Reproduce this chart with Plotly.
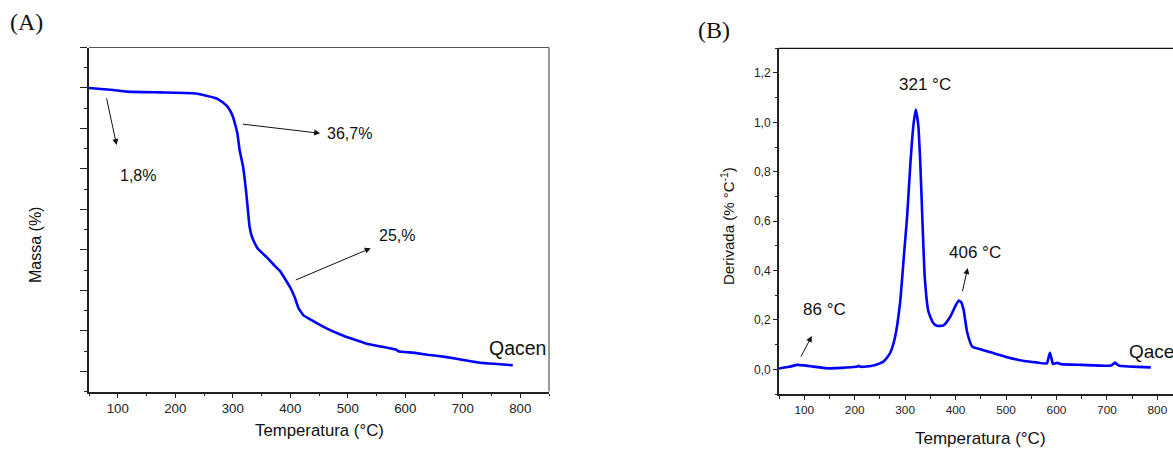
import plotly.graph_objects as go

# ---------------- data ----------------
# Panel A: TGA (mass %)
temp_a = [50, 92, 115, 173, 231, 254, 272, 283, 290, 295,
          300, 304, 308, 312, 318, 323, 327, 329, 332, 336,
          344, 359, 370, 382, 391, 400, 408, 414, 423, 440,
          463, 487, 510, 533, 562, 585, 588, 614, 643, 672,
          701, 730, 759, 787]
mass_a = [100.0, 99.5, 99.1, 98.9, 98.7, 98.1, 97.4, 96.4, 95.5, 94.5,
          93.0, 91.1, 88.8, 84.6, 80.5, 74.7, 68.9, 66.0, 63.9, 62.3,
          60.2, 58.2, 56.5, 54.8, 52.8, 50.7, 48.2, 45.7, 43.8, 42.4,
          40.6, 39.1, 37.9, 36.8, 36.0, 35.3, 34.9, 34.6, 34.0, 33.5,
          32.8, 32.1, 31.8, 31.5]

# Panel B: DTG (derivative)
temp_b = [50, 70, 86, 100, 118, 145, 175, 198, 205, 208,
          212, 237, 257, 270, 280, 290, 298, 304, 310, 316,
          321, 326, 330, 334, 339, 346, 355, 363, 376, 390,
          400, 406, 411, 416, 423, 433, 449, 476, 502, 536,
          560, 581, 584, 587, 590, 593, 602, 609, 650, 708,
          713, 716, 720, 725, 787]
deriv_b = [0.003, 0.010, 0.018, 0.016, 0.011, 0.004, 0.006, 0.009, 0.011, 0.014,
           0.010, 0.015, 0.031, 0.065, 0.13, 0.27, 0.47, 0.62, 0.82, 0.98,
           1.052, 0.99, 0.84, 0.62, 0.37, 0.235, 0.19, 0.176, 0.178, 0.215,
           0.258, 0.278, 0.272, 0.24, 0.15, 0.092, 0.081, 0.065, 0.049, 0.034,
           0.028, 0.024, 0.045, 0.067, 0.045, 0.022, 0.026, 0.021, 0.018, 0.015,
           0.022, 0.027, 0.020, 0.014, 0.008]

x_ticks = [100, 200, 300, 400, 500, 600, 700, 800]
b_y_ticks = [0.0, 0.2, 0.4, 0.6, 0.8, 1.0, 1.2]
b_y_ticktext = ["0,0", "0,2", "0,4", "0,6", "0,8", "1,0", "1,2"]

# ---------------- figure ----------------
W, H = 1173, 449
SANS = "Liberation Sans, Arial, sans-serif"
SERIF = "Liberation Serif, Times New Roman, serif"
BLUE = "#0000FF"
AX = "#222222"

fig = go.Figure()
fig.add_trace(go.Scatter(x=temp_a, y=mass_a, mode="lines",
                         line=dict(color=BLUE, width=2.6, shape="spline", smoothing=0.3),
                         xaxis="x", yaxis="y", showlegend=False, hoverinfo="skip"))
fig.add_trace(go.Scatter(x=temp_b, y=deriv_b, mode="lines",
                         line=dict(color=BLUE, width=2.6, shape="spline", smoothing=0.5),
                         xaxis="x2", yaxis="y2", showlegend=False, hoverinfo="skip"))

def px(x):
    return x / W

def py(y):
    return 1 - y / H

common_x = dict(showline=True, linecolor=AX, linewidth=2, mirror=False,
                ticks="outside", ticklen=4, tickwidth=1.2, tickcolor=AX,
                showgrid=False, zeroline=False, tickvals=x_ticks,
                minor=dict(dtick=50, tick0=0, ticks="outside", ticklen=2.5,
                           tickwidth=1.2, tickcolor=AX, showgrid=False))

fig.update_layout(
    width=W, height=H,
    margin=dict(l=0, r=0, t=0, b=0),
    paper_bgcolor="white", plot_bgcolor="white",
    font=dict(family=SANS, color="#111"),
    xaxis=dict(domain=[px(89), px(549)], range=[50, 850], anchor="y",
               tickfont=dict(size=13.3, family=SANS, color="#222"),
               **common_x),
    yaxis=dict(domain=[py(391.5), py(47.5)], range=[25, 110], anchor="x",
               showline=True, linecolor=AX, linewidth=2, mirror=False,
               ticks="outside", ticklen=7, tickwidth=1.2, tickcolor=AX,
               tickvals=[30, 40, 50, 60, 70, 80, 90, 100, 110],
               showticklabels=False, showgrid=False, zeroline=False,
               minor=dict(dtick=5, tick0=0, ticks="outside", ticklen=3.5,
                          tickwidth=1.2, tickcolor=AX, showgrid=False)),
    xaxis2=dict(domain=[px(779), 1.0], range=[50, 831], anchor="y2",
                tickfont=dict(size=11.8, family=SANS, color="#222"),
                **common_x),
    yaxis2=dict(domain=[py(394), py(48.3)], range=[-0.1, 1.3], anchor="x2",
                showline=True, linecolor=AX, linewidth=2, mirror=False,
                ticks="outside", ticklen=4, tickwidth=1.2, tickcolor=AX,
                tickvals=b_y_ticks, ticktext=b_y_ticktext,
                tickfont=dict(size=12, family=SANS, color="#222"),
                showgrid=False, zeroline=False,
                minor=dict(dtick=0.1, tick0=0, ticks="outside", ticklen=2.5,
                           tickwidth=1.2, tickcolor=AX, showgrid=False)),
)

# thin top / right frame lines
fig.add_shape(type="line", xref="x domain", yref="y domain", x0=0, x1=1, y0=1, y1=1,
              line=dict(color="#555", width=1.2))
fig.add_shape(type="line", xref="x domain", yref="y domain", x0=1, x1=1, y0=0, y1=1,
              line=dict(color="#555", width=1.2))
fig.add_shape(type="line", xref="x2 domain", yref="y2 domain", x0=0, x1=1, y0=1, y1=1,
              line=dict(color="#111", width=1.3))

ann = []
# panel labels
ann.append(dict(text="(A)", x=px(8), y=py(22), xref="paper", yref="paper",
                xanchor="left", yanchor="middle", showarrow=False,
                font=dict(family=SERIF, size=24, color="#111")))
ann.append(dict(text="(B)", x=px(696), y=py(30), xref="paper", yref="paper",
                xanchor="left", yanchor="middle", showarrow=False,
                font=dict(family=SERIF, size=24, color="#111")))
# axis titles
ann.append(dict(text="Temperatura (°C)", x=px(319), y=py(430), xref="paper", yref="paper",
                showarrow=False, xanchor="center", yanchor="middle",
                font=dict(size=16.8, color="#111")))
ann.append(dict(text="Temperatura (°C)", x=px(980), y=py(438), xref="paper", yref="paper",
                showarrow=False, xanchor="center", yanchor="middle",
                font=dict(size=17, color="#111")))
ann.append(dict(text="Massa (%)", x=px(36), y=py(245), xref="paper", yref="paper",
                showarrow=False, textangle=-90, xanchor="center", yanchor="middle",
                font=dict(size=16, color="#111")))
ann.append(dict(text="Derivada (% °C<sup>-1</sup>)", x=px(727), y=py(226), xref="paper", yref="paper",
                showarrow=False, textangle=-90, xanchor="center", yanchor="middle",
                font=dict(size=15, color="#111")))

# panel A texts
ann.append(dict(text="1,8%", x=135, y=78.4, xref="x", yref="y", showarrow=False,
                xanchor="center", yanchor="middle", font=dict(size=16, color="#111")))
ann.append(dict(text="36,7%", x=460, y=88.8, xref="x", yref="y", showarrow=False,
                xanchor="left", yanchor="middle", font=dict(size=16, color="#111")))
ann.append(dict(text="25,%", x=550, y=63.5, xref="x", yref="y", showarrow=False,
                xanchor="left", yanchor="middle", font=dict(size=16, color="#111")))
ann.append(dict(text="Qacen", x=742, y=35.8, xref="x", yref="y", showarrow=False,
                xanchor="left", yanchor="middle", font=dict(size=19.5, color="#111")))
# panel A arrows
for (tx, ty, hx, hy) in [(80, 97.8, 98, 85.9), (315, 91.1, 452, 88.8), (407, 52.4, 540, 60.4)]:
    ann.append(dict(text="", x=hx, y=hy, ax=tx, ay=ty, xref="x", yref="y",
                    axref="x", ayref="y", showarrow=True, arrowhead=2,
                    arrowsize=1.2, arrowwidth=1, arrowcolor="#111"))

# panel B texts
ann.append(dict(text="321 °C", x=340, y=1.153, xref="x2", yref="y2", showarrow=False,
                xanchor="center", yanchor="middle", font=dict(size=17, color="#111")))
ann.append(dict(text="406 °C", x=438, y=0.475, xref="x2", yref="y2", showarrow=False,
                xanchor="center", yanchor="middle", font=dict(size=17, color="#111")))
ann.append(dict(text="86 °C", x=140, y=0.241, xref="x2", yref="y2", showarrow=False,
                xanchor="center", yanchor="middle", font=dict(size=17, color="#111")))
ann.append(dict(text="Qacen", x=740, y=0.074, xref="x2", yref="y2", showarrow=False,
                xanchor="left", yanchor="middle", font=dict(size=19, color="#111")))
for (tx, ty, hx, hy) in [(413, 0.311, 424, 0.410), (92, 0.045, 115, 0.135)]:
    ann.append(dict(text="", x=hx, y=hy, ax=tx, ay=ty, xref="x2", yref="y2",
                    axref="x2", ayref="y2", showarrow=True, arrowhead=2,
                    arrowsize=1.2, arrowwidth=1, arrowcolor="#111"))

fig.update_layout(annotations=ann)
fig.write_html("out.html", config={"displayModeBar": False},
               post_script="document.body.style.margin='0';document.body.style.overflow='hidden';")
